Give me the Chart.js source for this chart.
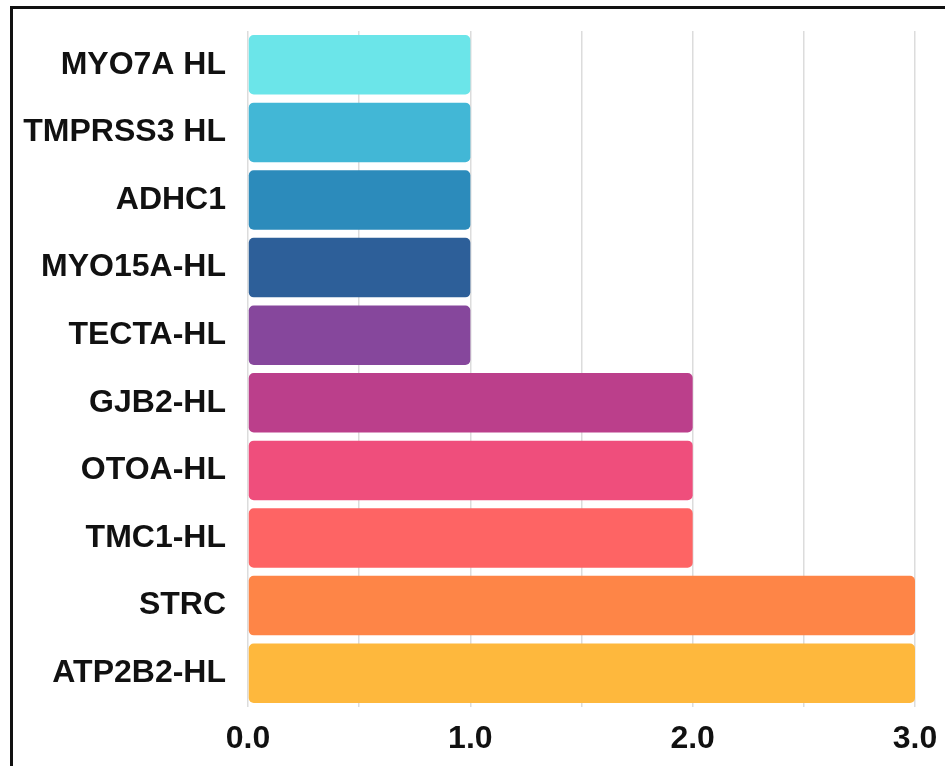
<!DOCTYPE html>
<html>
<head>
<meta charset="utf-8">
<script src="https://cdn.jsdelivr.net/npm/chart.js@4"></script>
<style>
  body { margin: 0; background: #fff; }
  #frame { position: absolute; left: 10px; top: 6px; width: 1000px; height: 850px; border: 3px solid #111; }
  #wrap { position: absolute; left: 0; top: 0; width: 945px; height: 766px; }
</style>
</head>
<body>
<div id="frame"></div>
<div id="wrap"><canvas id="genes" width="945" height="766"></canvas></div>
<script>
const categories = ['MYO7A HL', 'TMPRSS3 HL', 'ADHC1', 'MYO15A-HL', 'TECTA-HL', 'GJB2-HL', 'OTOA-HL', 'TMC1-HL', 'STRC', 'ATP2B2-HL']
const values = [1, 1, 1, 1, 1, 2, 2, 2, 3, 3]
const colors = ['#6be5e9', '#42b7d6', '#2c8bbb', '#2d5f99', '#86479c', '#bb3f8b', '#ef4e7c', '#fe6464', '#fe8547', '#feb83d']
const xTicks = [0, 1, 2, 3]

document.addEventListener("DOMContentLoaded", function (event) {
    const GENES = document.getElementById('genes')
    new Chart(GENES, {
        type: 'bar',
        data: {
            labels: categories,
            datasets: [{
                data: values,
                backgroundColor: colors,
                borderRadius: 5,
                borderSkipped: false,
                barPercentage: 0.88,
                categoryPercentage: 1
            }]
        },
        options: {
            indexAxis: 'y',
            responsive: false,
            animation: false,
            devicePixelRatio: 1,
            layout: { padding: { top: 31, right: 30, left: 0, bottom: 0 } },
            plugins: { legend: { display: false }, tooltip: { enabled: false } },
            scales: {
                x: {
                    min: 0,
                    max: 3,
                    ticks: {
                        stepSize: 0.5,
                        color: '#111',
                        padding: 13,
                        font: { family: 'Liberation Sans', size: 32, weight: 'bold' },
                        callback: function (v) {
                            return xTicks.includes(v) ? v.toFixed(1) : ''
                        }
                    },
                    grid: { color: '#dcdcdc', lineWidth: 1.5, drawTicks: false },
                    border: { display: false },
                    afterFit: function (axis) {
                        axis.height = 59
                        axis.paddingLeft = 0
                        axis.paddingRight = 0
                    }
                },
                y: {
                    ticks: {
                        color: '#111',
                        padding: 22,
                        font: { family: 'Liberation Sans', size: 32, weight: 'bold' }
                    },
                    grid: { display: false, drawTicks: false },
                    border: { display: false },
                    afterFit: function (axis) {
                        axis.width = 248
                        axis.paddingTop = 0
                        axis.paddingBottom = 0
                    }
                }
            }
        }
    })
})
</script>
</body>
</html>
